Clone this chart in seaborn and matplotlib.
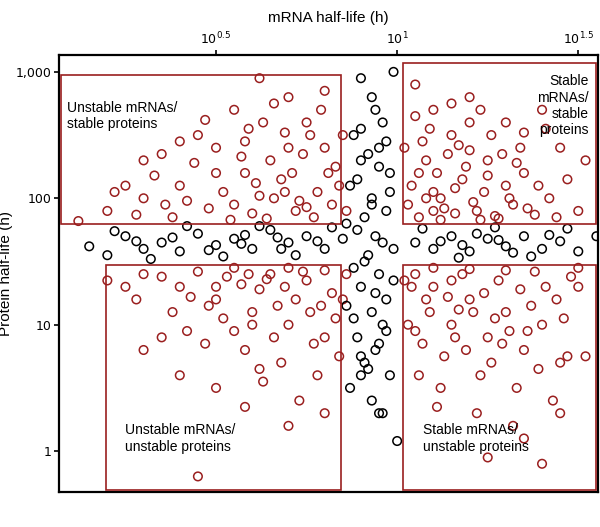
import numpy as np
import pandas as pd
import matplotlib
matplotlib.use("Agg")
import matplotlib.pyplot as plt
import seaborn as sns
from matplotlib.patches import Rectangle

# log10 (mRNA half-life), log10 (protein half-life) pairs
red_ul = "0.62 2.95,0.45 2.5,0.55 2.7,0.7 2.8,0.75 2.6,0.8 2.4,0.65 2.3,0.5 2.2,0.4 2.1,0.3 2.0,0.2 1.9,0.35 2.35,0.58 2.45,0.68 2.15,0.78 2.05,0.82 1.95,0.72 1.9,0.6 1.88,0.48 1.92,0.38 1.85,0.28 1.87,0.12 1.82,0.52 2.05,0.63 2.6,0.74 2.35,0.83 2.25,0.79 2.7,0.69 2.52,0.57 2.33,0.44 2.28,0.33 2.18,0.25 2.1,0.42 1.98,0.55 1.95,0.66 2.0,0.77 1.85,0.84 2.1,0.71 2.2,0.61 2.12,0.5 2.4,0.47 2.62,0.66 2.75,0.8 2.85,0.73 1.98,0.86 1.9,0.64 1.84,0.54 1.83,0.36 1.95,0.22 2.05,0.58 2.2,0.76 2.5,0.81 2.2,0.69 2.05,0.59 2.55,0.4 2.45,0.3 2.3,0.85 2.5,0.75 1.93,0.62 2.02,0.7 2.4"
red_ur = "1.05 2.9,1.1 2.7,1.2 2.8,1.3 2.6,1.45 2.4,1.35 2.2,1.25 2.3,1.15 2.5,1.08 2.3,1.04 2.1,1.12 2.0,1.22 1.9,1.32 1.95,1.42 2.0,1.5 1.9,1.06 1.85,1.16 1.88,1.28 1.84,1.38 1.87,1.47 2.15,1.18 2.15,1.09 2.55,1.14 2.35,1.24 2.05,1.34 2.4,1.4 2.7,1.2 2.6,1.1 2.05,1.03 1.95,1.07 2.45,1.26 2.5,1.3 2.1,1.19 2.25,1.13 1.92,1.23 2.7,1.36 1.92,1.44 1.85,1.05 2.65,1.17 2.42,1.29 2.35,1.11 2.2,1.21 1.97,1.33 2.28,1.15 2.75,1.02 2.4,1.27 1.86,1.39 2.1,1.08 2.0,1.25 2.18,1.52 2.3,1.06 2.2,1.16 2.08,1.31 2.0,1.2 2.38,1.41 2.55,1.12 1.83,1.35 2.52,1.1 1.9,1.23 1.83"
red_ll = "0.3 1.4,0.4 1.3,0.5 1.2,0.6 1.1,0.7 1.0,0.8 0.9,0.75 1.35,0.65 1.4,0.55 1.45,0.45 1.42,0.35 1.38,0.25 1.3,0.82 1.25,0.72 1.2,0.62 1.28,0.52 1.05,0.42 0.95,0.58 0.8,0.68 0.7,0.78 0.6,0.84 0.75,0.48 1.15,0.38 1.1,0.28 1.2,0.66 0.9,0.76 1.1,0.86 1.4,0.57 1.32,0.47 0.85,0.63 0.55,0.73 0.4,0.8 0.3,0.4 0.6,0.5 0.5,0.6 1.0,0.7 1.45,0.83 1.05,0.35 0.9,0.55 0.95,0.2 1.35,0.67 1.15,0.77 0.85,0.53 1.38,0.43 1.22,0.74 1.42,0.85 1.2,0.62 0.65,0.3 0.8,0.45 -0.2,0.58 0.35,0.7 0.2,0.8 1.43,0.64 1.36,0.5 1.3,0.79 1.15,0.69 1.3,0.59 1.4"
red_lr = "1.05 1.4,1.1 1.3,1.2 1.2,1.3 1.1,1.4 1.0,1.5 1.3,1.15 1.0,1.25 0.9,1.35 0.8,1.45 0.7,1.08 1.2,1.18 1.4,1.28 1.35,1.38 1.42,1.48 1.38,1.03 1.0,1.13 0.75,1.23 0.6,1.33 0.5,1.43 0.4,1.07 0.85,1.17 1.12,1.27 1.05,1.37 1.15,1.47 0.75,1.12 0.5,1.22 0.3,1.32 0.2,1.4 -0.1,1.1 1.45,1.2 1.44,1.3 1.43,1.04 1.3,1.14 1.22,1.24 1.25,1.34 1.28,1.44 1.2,1.06 0.6,1.16 0.9,1.26 0.7,1.36 0.95,1.46 1.05,1.09 1.1,1.19 0.8,1.29 0.85,1.39 0.65,1.52 0.75,1.02 1.35,1.21 1.1,1.31 0.95,1.41 1.3,1.11 0.35,1.25 -0.05,1.35 0.1,1.5 1.45,1.15 1.35,1.05 0.95,1.45 0.3"
black_h = "0.15 1.62,0.2 1.55,0.25 1.7,0.3 1.6,0.35 1.65,0.4 1.58,0.45 1.72,0.5 1.63,0.55 1.68,0.6 1.6,0.65 1.75,0.7 1.65,0.75 1.7,0.8 1.6,0.85 1.68,1.05 1.65,1.1 1.6,1.15 1.7,1.2 1.58,1.25 1.68,1.3 1.62,1.35 1.7,1.4 1.6,1.45 1.66,1.5 1.58,1.55 1.7,0.22 1.74,0.32 1.52,0.42 1.78,0.52 1.54,0.62 1.78,0.72 1.55,0.82 1.77,1.07 1.76,1.17 1.53,1.27 1.77,1.37 1.54,1.47 1.76,0.28 1.66,0.38 1.69,0.48 1.59,0.58 1.71,0.68 1.6,0.78 1.66,1.12 1.66,1.22 1.72,1.32 1.57,1.42 1.71,0.57 1.64,0.67 1.69,1.18 1.63,1.28 1.67"
black_v = "0.9 2.95,0.93 2.8,0.96 2.6,0.88 2.5,0.95 2.4,0.9 2.3,0.98 2.2,0.87 2.1,0.93 2.0,0.97 1.9,0.91 1.85,0.89 1.75,0.94 1.7,0.99 1.6,0.92 1.55,0.88 1.45,0.95 1.4,0.9 1.3,0.97 1.2,0.86 1.15,0.93 1.1,0.96 1.0,0.89 0.9,0.94 0.8,0.91 0.7,0.98 0.6,0.87 0.5,0.93 0.4,0.96 0.3,0.9 0.75,0.95 0.85,0.92 0.65,0.97 0.95,0.88 1.05,0.94 1.25,0.99 1.35,0.91 1.5,0.96 1.65,0.86 1.8,0.93 1.95,0.98 2.05,0.89 2.15,0.95 2.25,0.92 2.35,0.97 2.45,0.9 2.55,0.94 2.7,0.99 3.0,1.0 0.08,0.95 0.3,0.9 0.6"

x_ticks = [10**0.5, 10**1, 10**1.5]
x_tick_labels = [r"10$^{0.5}$", r"10$^{1}$", r"10$^{1.5}$"]
y_ticks = [1, 10, 100, 1000]
y_tick_labels = ["1", "10", "100", "1,000"]

def parse(s, grp):
    arr = np.array([[float(v) for v in p.split()] for p in s.split(",")])
    return pd.DataFrame({"mrna": 10**arr[:, 0], "prot": 10**arr[:, 1], "grp": grp})

df = pd.concat([parse(black_h, "k"), parse(black_v, "k"),
                parse(red_ul, "r"), parse(red_ur, "r"), parse(red_ll, "r"), parse(red_lr, "r")])

RED = "#9a1f1f"
fig = plt.figure(figsize=(6, 5.27), dpi=100)
ax = fig.add_axes([0.098, 0.066, 0.899, 0.83])
ax.set_xscale("log"); ax.set_yscale("log")
for g, c in [("r", RED), ("k", "black")]:
    sub = df[df.grp == g]
    sns.scatterplot(data=sub, x="mrna", y="prot", ax=ax, marker="o", s=38,
                    facecolors="none", edgecolor=c, linewidth=1.1, legend=False)
ax.set_xlim(10**0.066, 10**1.555)
ax.set_ylim(10**-0.325, 10**3.135)

def rect(x0, x1, y0, y1):
    ax.add_patch(Rectangle((10**x0, 10**y0), 10**x1 - 10**x0, 10**y1 - 10**y0,
                           fill=False, edgecolor=RED, linewidth=1.2, zorder=5))
rect(0.072, 0.845, 1.80, 2.976)
rect(1.017, 1.55, 1.80, 3.07)
rect(0.196, 0.845, -0.31, 1.476)
rect(1.017, 1.55, -0.31, 1.476)

ax.text(10**0.09, 10**2.77, "Unstable mRNAs/\nstable proteins", fontsize=10, va="top", ha="left", family="Liberation Sans")
ax.text(10**1.53, 10**2.98, "Stable\nmRNAs/\nstable\nproteins", fontsize=10, va="top", ha="right", family="Liberation Sans")
ax.text(10**0.25, 10**0.22, "Unstable mRNAs/\nunstable proteins", fontsize=10, va="top", ha="left", family="Liberation Sans")
ax.text(10**1.07, 10**0.22, "Stable mRNAs/\nunstable proteins", fontsize=10, va="top", ha="left", family="Liberation Sans")

ax.xaxis.tick_top(); ax.xaxis.set_label_position("top")
ax.set_xticks(x_ticks); ax.set_xticklabels(x_tick_labels)
ax.set_yticks(y_ticks); ax.set_yticklabels(y_tick_labels)
ax.minorticks_off()
ax.tick_params(labelsize=9, width=1.2, pad=2)
ax.set_xlabel("mRNA half-life (h)", fontsize=11, family="Liberation Sans", labelpad=6)
ax.set_ylabel("Protein half-life (h)", fontsize=11, family="Liberation Sans", labelpad=2)
for sp in ax.spines.values():
    sp.set_linewidth(1.6)
fig.savefig("out.png", dpi=100)
